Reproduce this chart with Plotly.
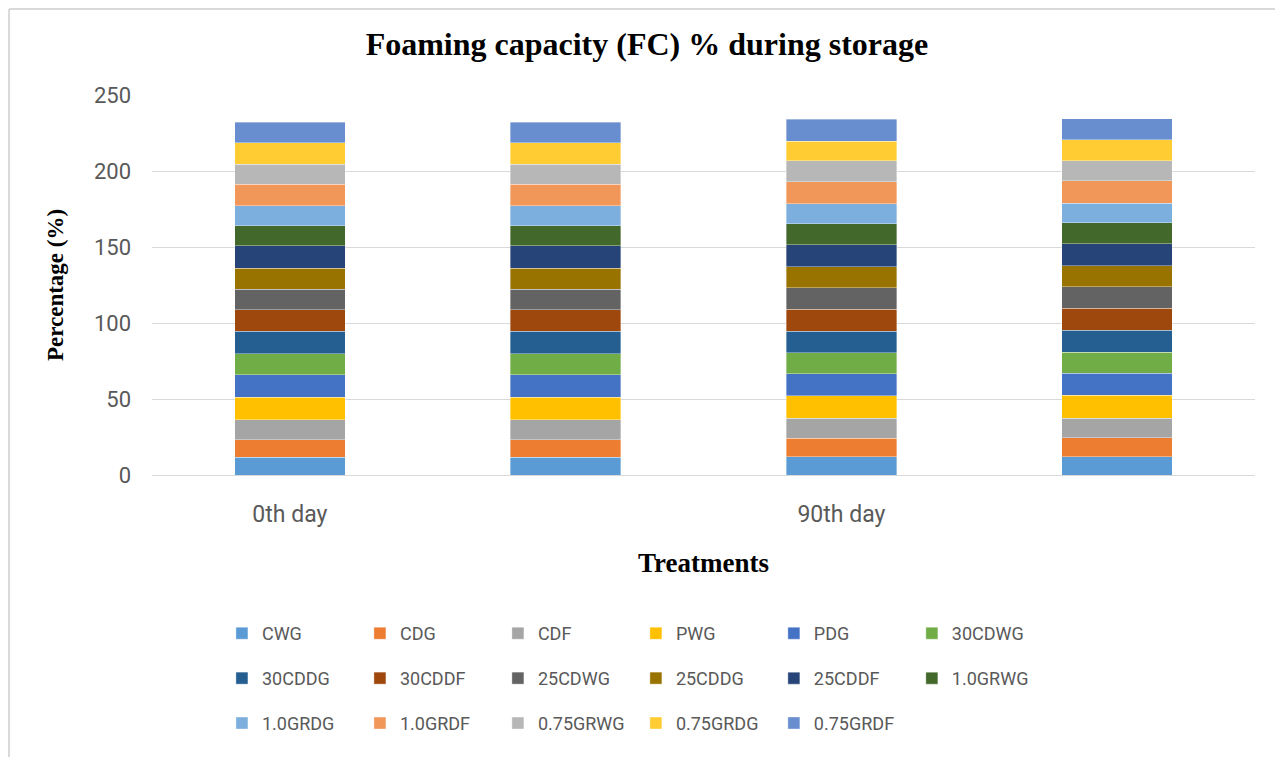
import plotly.graph_objects as go

days = ["0th day", "30th day", "90th day", "120th day"]
tick_text = ["0th day", "", "90th day", ""]

treatments = ["CWG", "CDG", "CDF", "PWG", "PDG", "30CDWG", "30CDDG", "30CDDF",
              "25CDWG", "25CDDG", "25CDDF", "1.0GRWG", "1.0GRDG", "1.0GRDF",
              "0.75GRWG", "0.75GRDG", "0.75GRDF"]

# FC % per treatment, one value per bar
CWG = [11.6, 11.6, 12.1, 12.1]
CDG = [11.7, 11.7, 12.2, 12.5]
CDF = [12.9, 12.9, 13.0, 12.7]
PWG = [15.1, 15.1, 14.9, 15.1]
PDG = [14.7, 14.7, 14.5, 14.5]
CD30WG = [13.8, 13.8, 13.6, 14.0]
CD30DG = [14.7, 14.7, 14.2, 14.3]
CD30DF = [14.1, 14.1, 14.7, 14.4]
CD25WG = [13.6, 13.6, 14.0, 14.1]
CD25DG = [13.8, 13.8, 13.9, 14.0]
CD25DF = [14.7, 14.7, 14.4, 14.5]
GR10WG = [13.3, 13.3, 13.8, 13.6]
GR10DG = [13.2, 13.2, 13.2, 13.1]
GR10DF = [14.0, 14.0, 14.5, 14.7]
GR075WG = [13.2, 13.2, 13.6, 13.2]
GR075DG = [14.2, 14.2, 13.1, 13.6]
GR075DF = [13.6, 13.6, 14.3, 14.0]

series = [CWG, CDG, CDF, PWG, PDG, CD30WG, CD30DG, CD30DF, CD25WG, CD25DG,
          CD25DF, GR10WG, GR10DG, GR10DF, GR075WG, GR075DG, GR075DF]

colors = ["#5B9BD5", "#ED7D31", "#A5A5A5", "#FFC000", "#4472C4", "#70AD47",
          "#255E91", "#9E480E", "#636363", "#997300", "#264478", "#43682B",
          "#7CAFDD", "#F1975A", "#B7B7B7", "#FFCD33", "#698ED0"]

# legend laid out as 6 columns x 3 rows, one plotly legend per column
legend_ids = ["legend", "legend2", "legend3", "legend4", "legend5", "legend6"]

fig = go.Figure()
for i, (name, vals) in enumerate(zip(treatments, series)):
    fig.add_trace(go.Bar(
        x=days, y=vals, name=name,
        marker=dict(color=colors[i], line=dict(color="rgba(255,255,255,0.6)", width=0.6)),
        legend=legend_ids[i % 6], legendgroup=name,
    ))

sans = "Roboto, sans-serif"
serif = "Liberation Serif, Times New Roman, serif"
gray = "#595959"

leg_common = dict(orientation="v", xanchor="left", yanchor="top", y=-0.3685,
                  traceorder="grouped", tracegroupgap=18.5,
                  font=dict(family=sans, size=18, color=gray),
                  bgcolor="rgba(0,0,0,0)")
leg_layout = {lid: dict(x=0.0634 + j * 0.1251, **leg_common)
              for j, lid in enumerate(legend_ids)}

fig.update_layout(
    width=1283, height=757,
    barmode="stack", bargap=0.6,
    plot_bgcolor="white", paper_bgcolor="white",
    # page body adds an 8px offset, margins compensate for it
    margin=dict(l=144, r=36, t=87, b=290),
    title=dict(text="<b>Foaming capacity (FC) % during storage</b>",
               x=0.498, xanchor="center", y=0.953, yanchor="middle",
               font=dict(family=serif, size=32, color="black")),
    showlegend=True,
    **leg_layout,
)

fig.update_xaxes(
    tickvals=days, ticktext=tick_text,
    tickfont=dict(family=sans, size=23, color=gray),
    ticklabelstandoff=23, automargin=False,
    showgrid=False, showline=False, zeroline=False,
    title=dict(text="<b>Treatments</b>", font=dict(family=serif, size=27, color="black"),
               standoff=26),
)
fig.update_yaxes(
    range=[0, 250], tickvals=[0, 50, 100, 150, 200, 250],
    tickfont=dict(family=sans, size=22, color=gray),
    ticklabelstandoff=20, automargin=False,
    showgrid=True, gridcolor="#D9D9D9", gridwidth=1,
    zeroline=True, zerolinecolor="#D9D9D9", zerolinewidth=1,
    showline=False,
    title=dict(text="<b>Percentage (%)</b>", font=dict(family=serif, size=23, color="black"),
               standoff=23),
)

# chart-area border (top and left edges only, as in the original)
fig.add_shape(type="line", xref="paper", yref="paper",
              x0=-0.1296, x1=1.03, y0=1.2263, y1=1.2263,
              line=dict(color="#D9D9D9", width=2))
fig.add_shape(type="line", xref="paper", yref="paper",
              x0=-0.1296, x1=-0.1296, y0=1.2263, y1=-0.75,
              line=dict(color="#D9D9D9", width=2))

fig.write_html("out.html")
